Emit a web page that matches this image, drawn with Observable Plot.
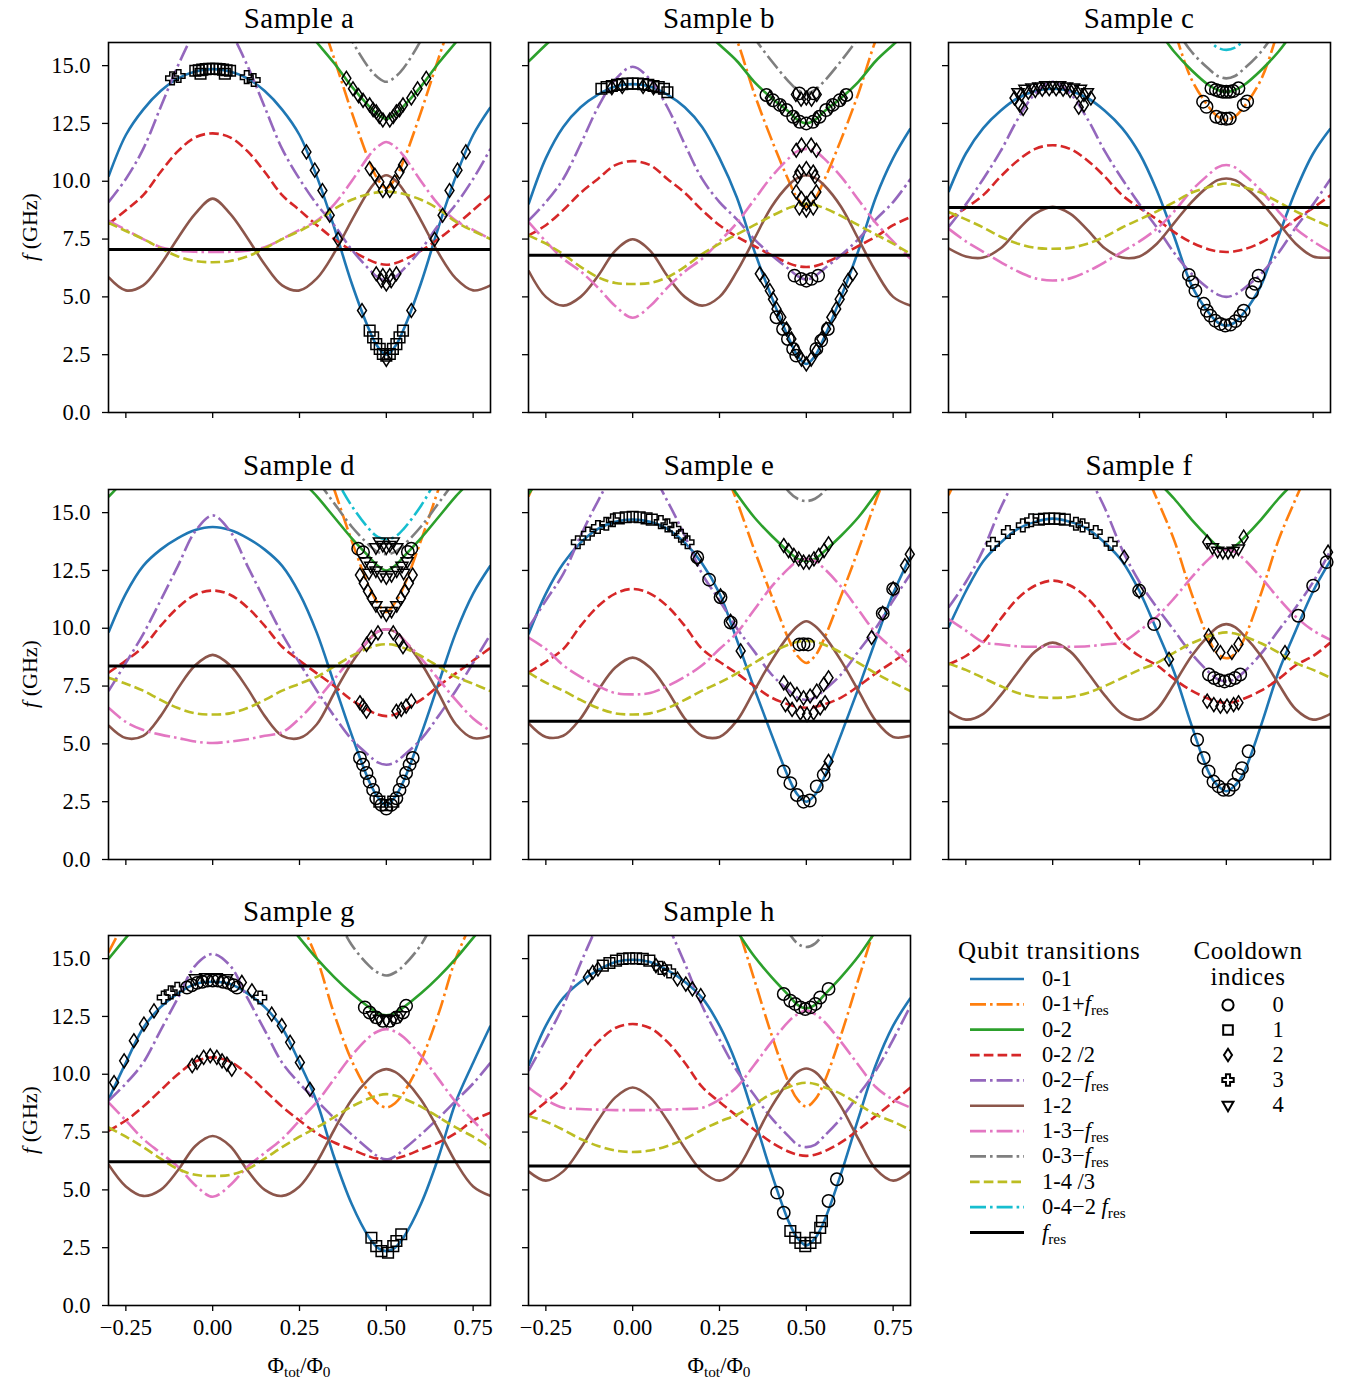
<!DOCTYPE html>
<html>
<head>
<meta charset="utf-8">
<script src="https://cdn.jsdelivr.net/npm/d3@7"></script>
<script src="https://cdn.jsdelivr.net/npm/@observablehq/plot@0.6"></script>
<style>
  html, body { margin: 0; padding: 0; background: #fff; }
  #root { position: relative; width: 1348px; height: 1383px; font-family: "Liberation Serif", serif; color: #000; overflow: hidden; }
  .abs { position: absolute; white-space: nowrap; line-height: 1; }
  .ctr { transform: translate(-50%, -50%); }
  sub { font-size: 0.68em; vertical-align: -0.28em; line-height: 0; }
  svg.plotpanel { position: absolute; overflow: visible; background: transparent; }
  svg.plotpanel text { font-family: "Liberation Serif", serif; }
</style>
</head>
<body>
<div id="root"></div>
<script>
// ---------------- DATA ----------------
const N = null;
const PHI = [-0.3,-0.25,-0.2,-0.15,-0.1,-0.05,0,0.05,0.1,0.15,0.2,0.25,0.3,0.35,0.4,0.45,0.475,0.5,0.525,0.55,0.6,0.65,0.7,0.75,0.8];
const Y_TICKS = [0, 2.5, 5, 7.5, 10, 12.5, 15];
const X_TICKS = [-0.25, 0, 0.25, 0.5, 0.75];
const SAMPLES = ["a","b","c","d","e","f","g","h"];
const F_RES = [7.05, 6.8, 8.86, 8.37, 5.98, 5.72, 6.22, 6.03];
const TRANSITIONS = ["0-1","0-1+fres","0-2","0-2 /2","0-2−fres","1-2","1-3−fres","0-3−fres","1-4 /3","0-4−2 fres"];
const COOLDOWNS = [0,1,2,3,4];

// Sample a
const a01  = [10.2,12.0,13.1,13.9,14.45,14.75,14.85,14.75,14.45,13.9,13.1,12.0,10.2,8.0,5.6,3.6,2.85,2.5,2.85,3.6,5.6,8.0,10.2,12.0,13.2];
const a01r = [N,N,N,N,N,N,N,N,N,N,N,19.5,17.5,15.3,13.0,10.9,10.1,9.7,10.1,10.9,13.0,15.3,17.5,19.5,N];
const a02  = [16.2,17.1,N,N,N,N,N,N,N,N,N,16.9,16.0,15.1,14.1,13.25,12.9,12.7,12.9,13.25,14.1,15.1,16.0,16.9,N];
const a02h = [8.15,8.75,9.4,10.4,11.3,11.9,12.07,11.9,11.3,10.4,9.4,8.75,8.1,7.5,7.0,6.6,6.45,6.39,6.45,6.6,7.0,7.5,8.1,8.75,9.4];
const a02r = [9.1,10.1,11.4,13.2,15.0,16.5,17.5,16.5,15.0,13.2,11.4,10.1,9.0,8.1,7.05,6.2,5.85,5.7,5.85,6.2,7.05,8.1,9.0,10.1,11.4];
const a12  = [5.85,5.28,5.5,6.4,7.55,8.6,9.25,8.6,7.55,6.4,5.5,5.28,5.8,6.9,8.3,9.6,10.05,10.26,10.05,9.6,8.3,6.9,5.8,5.28,5.5];
const a13r = [8.3,7.9,7.5,7.15,7.0,6.95,6.94,6.95,7.0,7.15,7.5,7.9,8.3,9.0,10.0,11.1,11.5,11.7,11.5,11.1,10.0,9.0,8.3,7.9,7.5];
const a03r = [N,N,N,N,N,N,N,N,N,N,N,N,N,17.6,16.1,14.9,14.5,14.3,14.5,14.9,16.1,17.6,N,N,N];
const a14  = [8.2,7.85,7.5,7.1,6.75,6.55,6.5,6.55,6.75,7.1,7.5,7.85,8.25,8.8,9.2,9.45,9.52,9.55,9.52,9.45,9.2,8.8,8.25,7.85,7.5];

// Sample b
const b01  = [9.0,11.0,12.35,13.2,13.75,14.1,14.2,14.1,13.75,13.2,12.35,11.0,9.3,7.0,5.0,3.2,2.45,2.1,2.45,3.2,5.0,7.0,9.3,11.0,12.28];
const b01r = [16.1,17.8,N,N,N,N,N,N,N,N,N,17.8,16.1,13.8,11.8,10.0,9.25,8.9,9.25,10.0,11.8,13.8,16.1,17.8,N];
const b02  = [15.17,15.9,16.6,17.5,N,N,N,N,N,17.5,16.6,15.9,15.2,14.3,13.6,13.0,12.65,12.5,12.65,13.0,13.6,14.3,15.2,15.9,16.6];
const b02h = [7.66,8.1,8.75,9.5,10.1,10.7,10.87,10.7,10.1,9.5,8.75,8.1,7.6,7.2,6.8,6.45,6.33,6.29,6.33,6.45,6.8,7.2,7.6,8.1,8.45];
const b02r = [8.3,9.1,10.1,11.6,13.2,14.4,14.95,14.4,13.2,11.6,10.1,9.1,8.35,7.5,6.8,6.2,5.9,5.75,5.9,6.2,6.8,7.5,8.35,9.1,10.1];
const b12  = [6.14,5.0,4.62,5.0,5.9,7.0,7.49,7.0,5.9,5.0,4.62,5.0,6.1,7.5,8.9,9.85,10.15,10.26,10.15,9.85,8.9,7.5,6.1,5.0,4.62];
const b13r = [8.24,7.4,6.65,6.1,5.4,4.6,4.1,4.6,5.4,6.1,6.65,7.4,8.2,9.2,10.2,11.0,11.3,11.4,11.3,11.0,10.2,9.2,8.2,7.4,6.65];
const b03r = [N,N,N,N,N,N,N,N,N,N,N,N,17.3,16.2,15.2,14.3,13.95,13.8,13.95,14.3,15.2,16.2,17.3,N,N];
const b14  = [7.66,7.3,6.85,6.3,5.85,5.6,5.56,5.6,5.85,6.3,6.85,7.3,7.7,8.1,8.5,8.85,8.97,9.03,8.97,8.85,8.5,8.1,7.7,7.3,6.86];

// Sample c
const c01  = [9.54,11.2,12.3,13.05,13.6,13.9,14.0,13.9,13.6,13.05,12.3,11.2,9.6,7.6,5.5,4.3,3.9,3.76,3.9,4.3,5.5,7.6,9.6,11.2,12.28];
const c01r = [N,N,N,N,N,N,N,N,N,N,N,N,18.5,16.5,14.4,13.2,12.8,12.65,12.8,13.2,14.4,16.5,18.5,N,N];
const c02  = [16.6,17.5,N,N,N,N,N,N,N,N,N,17.5,16.6,15.6,14.8,14.15,13.95,13.87,13.95,14.15,14.8,15.6,16.6,17.5,N];
const c02h = [8.38,8.85,9.4,10.2,10.9,11.4,11.56,11.4,10.9,10.2,9.4,8.85,8.35,7.8,7.35,7.05,6.97,6.94,6.97,7.05,7.35,7.8,8.35,8.85,9.39];
const c02r = [8.02,9.0,10.1,11.3,12.7,13.8,14.3,13.8,12.7,11.3,10.1,9.0,8.0,6.9,6.0,5.35,5.1,5.0,5.1,5.35,6.0,6.9,8.0,9.0,10.1];
const c12  = [7.1,6.75,6.7,7.1,7.9,8.6,8.89,8.6,7.9,7.1,6.7,6.75,7.3,8.2,9.1,9.8,10.05,10.12,10.05,9.8,9.1,8.2,7.3,6.75,6.7];
const c13r = [7.95,7.4,6.95,6.5,6.1,5.8,5.71,5.8,6.1,6.5,6.95,7.4,7.95,8.7,9.6,10.3,10.6,10.7,10.6,10.3,9.6,8.7,7.95,7.4,6.94];
const c03r = [N,N,N,N,N,N,N,N,N,N,N,N,18.0,16.7,15.6,14.85,14.55,14.45,14.55,14.85,15.6,16.7,18.0,N,N];
const c14  = [8.67,8.35,8.0,7.6,7.3,7.12,7.08,7.12,7.3,7.6,8.0,8.35,8.7,9.1,9.5,9.75,9.85,9.9,9.85,9.75,9.5,9.1,8.7,8.35,8.02];
const c04r = [N,N,N,N,N,N,N,N,N,N,N,N,N,18.5,17.0,16.1,15.78,15.68,15.78,16.1,17.0,18.5,N,N,N];

// Sample d
const d01  = [9.82,11.5,12.7,13.4,13.9,14.25,14.38,14.25,13.9,13.4,12.7,11.5,9.8,7.6,5.4,3.4,2.7,2.35,2.7,3.4,5.4,7.6,9.8,11.5,12.71];
const d01r = [N,N,N,N,N,N,N,N,N,N,N,N,18.2,16.0,13.8,11.8,11.1,10.7,11.1,11.8,13.8,16.0,18.2,N,N];
const d02  = [15.68,16.5,17.5,N,N,N,N,N,N,N,17.5,16.5,15.7,14.8,13.9,13.1,12.7,12.5,12.7,13.1,13.9,14.8,15.7,16.5,17.5];
const d02h = [8.08,8.6,9.2,10.1,10.9,11.45,11.63,11.45,10.9,10.1,9.2,8.6,8.05,7.5,6.9,6.45,6.27,6.2,6.27,6.45,6.9,7.5,8.05,8.6,9.16];
const d02r = [7.28,8.5,9.75,11.2,12.7,14.2,14.88,14.2,12.7,11.2,9.75,8.5,7.3,6.2,5.2,4.5,4.2,4.1,4.2,4.5,5.2,6.2,7.3,8.5,9.74];
const d12  = [5.8,5.25,5.35,6.2,7.4,8.4,8.85,8.4,7.4,6.2,5.35,5.25,5.85,7.2,8.5,9.5,9.85,9.96,9.85,9.5,8.5,7.2,5.85,5.25,5.35];
const d13r = [6.56,5.95,5.6,5.4,5.25,5.1,5.04,5.1,5.2,5.35,5.5,6.1,6.9,7.8,8.7,9.5,9.85,9.96,9.85,9.5,8.7,7.8,6.9,6.1,5.55];
const d03r = [N,N,N,N,N,N,N,N,N,N,N,17.2,16.4,15.4,14.4,13.6,13.3,13.2,13.3,13.6,14.4,15.4,16.4,17.2,N];
const d14  = [7.86,7.6,7.3,6.9,6.55,6.32,6.27,6.32,6.55,6.9,7.3,7.6,7.9,8.35,8.8,9.15,9.27,9.31,9.27,9.15,8.8,8.35,7.9,7.6,7.28];
const d04r = [N,N,N,N,N,N,N,N,N,N,N,N,18.0,16.6,15.3,14.3,13.95,13.85,13.95,14.3,15.3,16.6,18.0,N,N];

// Sample e
const e01  = [9.74,11.5,12.8,13.7,14.3,14.6,14.7,14.6,14.3,13.7,12.8,11.5,9.5,7.4,5.4,3.5,2.8,2.5,2.8,3.5,5.4,7.4,9.5,11.5,13.1];
const e01r = [15.7,17.4,N,N,N,N,N,N,N,N,N,17.4,15.5,13.4,11.4,9.5,8.8,8.5,8.8,9.5,11.4,13.4,15.5,17.4,N];
const e02  = [15.8,16.9,N,N,N,N,N,N,N,N,N,16.9,15.8,14.8,14.0,13.3,13.0,12.9,13.0,13.3,14.0,14.8,15.8,16.9,N];
const e02h = [8.08,8.55,9.1,10.1,10.95,11.5,11.7,11.5,10.95,10.1,9.1,8.55,8.05,7.5,7.0,6.7,6.6,6.56,6.6,6.7,7.0,7.5,8.05,8.55,9.09];
const e02r = [10.03,11.2,12.35,14.0,15.5,16.8,17.5,16.8,15.5,14.0,12.35,11.2,10.0,9.0,8.0,7.3,7.0,6.9,7.0,7.3,8.0,9.0,10.0,11.2,12.35];
const e12  = [5.9,5.3,5.35,6.1,7.3,8.3,8.73,8.3,7.3,6.1,5.35,5.3,6.0,7.3,8.6,9.7,10.1,10.3,10.1,9.7,8.6,7.3,6.0,5.3,5.35];
const e13r = [9.6,9.1,8.4,7.9,7.5,7.2,7.14,7.2,7.5,7.9,8.4,9.1,9.8,10.8,11.8,12.6,12.9,13.0,12.9,12.6,11.8,10.8,9.8,9.1,8.37];
const e03r = [N,N,N,N,N,N,N,N,N,N,N,N,N,N,17.0,15.9,15.6,15.5,15.6,15.9,17.0,N,N,N,N];
const e14  = [8.08,7.65,7.3,6.9,6.55,6.32,6.27,6.32,6.55,6.9,7.3,7.65,8.05,8.5,8.95,9.3,9.42,9.45,9.42,9.3,8.95,8.5,8.05,7.65,7.28];

// Sample f
const f01  = [10.03,11.6,12.9,13.7,14.3,14.6,14.74,14.6,14.3,13.7,12.9,11.6,9.9,8.1,5.8,3.75,3.2,2.95,3.2,3.75,5.8,8.1,9.9,11.6,12.93];
const f01r = [15.75,17.3,N,N,N,N,N,N,N,N,N,17.3,15.6,13.8,11.5,9.5,8.9,8.7,8.9,9.5,11.5,13.8,15.6,17.3,N];
const f02  = [16.4,17.3,N,N,N,N,N,N,N,N,N,17.3,16.4,15.6,14.7,13.9,13.55,13.4,13.55,13.9,14.7,15.6,16.4,17.3,N];
const f02h = [8.44,8.8,9.4,10.4,11.3,11.85,12.06,11.85,11.3,10.4,9.4,8.8,8.4,7.8,7.3,6.95,6.82,6.78,6.82,6.95,7.3,7.8,8.4,8.8,9.38];
const f02r = [10.9,12.0,13.4,15.2,16.7,N,N,N,16.7,15.2,13.4,12.0,10.9,9.9,8.9,8.1,7.8,7.7,7.8,8.1,8.9,9.9,10.9,12.0,13.36];
const f12  = [6.41,6.05,6.3,7.1,8.1,9.0,9.38,9.0,8.1,7.1,6.3,6.05,6.5,7.6,8.8,9.7,10.05,10.18,10.05,9.7,8.8,7.6,6.5,6.05,6.3];
const f13r = [10.4,9.9,9.4,9.3,9.22,9.2,9.2,9.2,9.22,9.3,9.4,9.9,10.5,11.3,12.2,13.0,13.3,13.4,13.3,13.0,12.2,11.3,10.5,9.9,9.5];
const f14  = [8.47,8.2,7.85,7.5,7.2,7.03,6.99,7.03,7.2,7.5,7.85,8.2,8.5,8.95,9.35,9.65,9.77,9.82,9.77,9.65,9.35,8.95,8.5,8.2,7.86];

// Sample g
const g01  = [8.9,10.5,12.0,12.9,13.5,13.9,14.0,13.9,13.5,12.9,12.0,10.5,8.8,6.4,4.4,2.95,2.5,2.35,2.5,2.95,4.4,6.4,8.8,10.5,12.1];
const g01r = [15.27,16.7,N,N,N,N,N,N,N,N,N,16.7,15.0,12.6,10.6,9.2,8.75,8.56,8.75,9.2,10.6,12.6,15.0,16.7,N];
const g02  = [14.99,15.9,16.8,N,N,N,N,N,N,N,16.8,15.9,15.0,14.2,13.5,12.9,12.65,12.55,12.65,12.9,13.5,14.2,15.0,15.9,16.8];
const g02h = [7.55,8.0,8.6,9.3,10.0,10.55,10.73,10.55,10.0,9.3,8.6,8.0,7.45,7.05,6.75,6.45,6.35,6.32,6.35,6.45,6.75,7.05,7.45,8.0,8.34];
const g02r = [8.85,9.6,10.5,11.9,13.3,14.7,15.2,14.7,13.3,11.9,10.5,9.6,8.85,8.1,7.4,6.75,6.45,6.32,6.45,6.75,7.4,8.1,8.85,9.6,10.5];
const g12  = [6.1,5.15,4.74,5.0,5.85,6.9,7.33,6.9,5.85,5.0,4.74,5.15,6.2,7.6,8.9,9.8,10.1,10.22,10.1,9.8,8.9,7.6,6.2,5.15,4.74];
const g13r = [8.78,8.0,7.2,6.6,6.0,5.2,4.7,5.2,6.0,6.6,7.2,8.0,8.8,9.8,10.8,11.6,11.85,11.95,11.85,11.6,10.8,9.8,8.8,8.0,7.19];
const g03r = [N,N,N,N,N,N,N,N,N,N,N,N,N,17.0,15.6,14.7,14.4,14.27,14.4,14.7,15.6,17.0,N,N,N];
const g14  = [7.7,7.3,6.85,6.35,5.9,5.65,5.6,5.65,5.9,6.35,6.85,7.3,7.7,8.15,8.6,8.95,9.08,9.14,9.08,8.95,8.6,8.15,7.7,7.3,6.83];

// Sample h
const h01  = [10.37,12.1,13.3,14.0,14.5,14.85,14.95,14.85,14.5,14.0,13.3,12.1,10.4,8.1,5.7,3.6,2.9,2.6,2.9,3.6,5.7,8.1,10.4,12.1,13.3];
const h01r = [N,N,N,N,N,N,N,N,N,N,N,18.0,16.4,14.1,11.7,9.6,8.9,8.6,8.9,9.6,11.7,14.1,16.4,18.0,N];
const h02  = [16.2,17.4,N,N,N,N,N,N,N,N,N,17.4,16.2,15.1,14.2,13.4,13.0,12.85,13.0,13.4,14.2,15.1,16.2,17.4,N];
const h02h = [8.2,8.8,9.45,10.5,11.4,12.0,12.17,12.0,11.4,10.5,9.45,8.8,8.2,7.6,7.05,6.65,6.52,6.47,6.52,6.65,7.05,7.6,8.2,8.8,9.43];
const h02r = [10.15,11.5,12.96,14.8,16.5,N,N,N,16.5,14.8,12.96,11.5,10.15,9.1,8.1,7.3,6.95,6.85,6.95,7.3,8.1,9.1,10.15,11.5,12.96];
const h12  = [5.8,5.4,5.8,6.8,8.0,9.0,9.43,9.0,8.0,6.8,5.8,5.4,5.9,7.2,8.6,9.7,10.1,10.25,10.1,9.7,8.6,7.2,5.9,5.4,5.8];
const h13r = [9.43,8.9,8.55,8.5,8.47,8.45,8.45,8.45,8.47,8.5,8.55,8.9,9.45,10.4,11.4,12.3,12.6,12.75,12.6,12.3,11.4,10.4,9.45,8.9,8.56];
const h03r = [N,N,N,N,N,N,N,N,N,N,N,N,N,N,17.2,16.1,15.65,15.5,15.65,16.1,17.2,N,N,N,N];
const h14  = [8.2,7.95,7.6,7.2,6.9,6.7,6.64,6.7,6.9,7.2,7.6,7.95,8.25,8.7,9.15,9.45,9.58,9.63,9.58,9.45,9.15,8.7,8.25,7.95,7.59];

// measured points: [Φtot/Φ0, f (GHz), cooldown index]
const ptsA = [
  [-0.117,14.45,3],[-0.098,14.55,3],[0.098,14.5,3],[0.118,14.38,3],
  [-0.05,14.78,1],[-0.04,14.8,1],[-0.03,14.83,1],[-0.02,14.85,1],[-0.01,14.86,1],[0,14.86,1],[0.01,14.86,1],[0.02,14.85,1],[0.03,14.83,1],[0.04,14.8,1],[0.05,14.78,1],[-0.035,14.65,1],[0.035,14.65,1],
  [0.385,14.45,2],[0.404,14.0,2],[0.42,13.7,2],[0.433,13.5,2],[0.452,13.3,2],[0.462,13.1,2],[0.471,13.0,2],[0.48,12.8,2],[0.49,12.65,2],[0.51,12.65,2],[0.52,12.8,2],[0.529,13.0,2],[0.538,13.1,2],[0.548,13.3,2],[0.572,13.6,2],[0.59,14.0,2],[0.615,14.45,2],
  [0.452,10.55,2],[0.467,10.26,2],[0.48,9.97,2],[0.49,9.6,2],[0.51,9.6,2],[0.524,9.97,2],[0.538,10.4,2],[0.548,10.7,2],
  [0.471,6.0,2],[0.486,5.7,2],[0.5,5.56,2],[0.514,5.7,2],[0.529,6.0,2],[0.49,5.92,2],[0.51,5.92,2],
  [0.27,11.27,2],[0.294,10.48,2],[0.316,9.6,2],[0.337,8.53,2],[0.361,7.49,2],[0.639,7.49,2],[0.662,8.53,2],[0.682,9.6,2],[0.705,10.48,2],[0.729,11.27,2],[0.43,4.41,2],[0.572,4.41,2],[0.5,2.3,2],
  [0.452,3.54,1],[0.462,3.25,1],[0.471,2.96,1],[0.481,2.75,1],[0.49,2.53,1],[0.5,2.46,1],[0.51,2.53,1],[0.519,2.75,1],[0.529,2.96,1],[0.538,3.25,1],[0.548,3.54,1]
];
const ptsB = [
  [-0.09,14.0,1],[-0.075,14.07,1],[-0.06,14.12,1],[-0.045,14.17,1],[-0.03,14.2,1],[-0.015,14.22,1],[0,14.22,1],[0.015,14.22,1],[0.03,14.2,1],[0.045,14.17,1],[0.06,14.12,1],[0.075,14.07,1],[0.09,14.0,1],[0.1,13.85,1],
  [-0.06,14.05,2],[-0.03,14.1,2],[0.03,14.1,2],[0.06,14.05,2],
  [0.385,13.73,0],[0.404,13.5,0],[0.424,13.3,0],[0.443,13.08,0],[0.462,12.79,0],[0.481,12.57,0],[0.5,12.5,0],[0.519,12.57,0],[0.538,12.79,0],[0.557,13.08,0],[0.576,13.3,0],[0.596,13.5,0],[0.615,13.73,0],
  [0.395,13.6,2],[0.43,13.2,2],[0.47,12.7,2],[0.53,12.7,2],[0.57,13.2,2],[0.605,13.6,2],
  [0.47,13.75,2],[0.485,13.55,2],[0.5,13.6,2],[0.515,13.55,2],[0.53,13.75,2],[0.48,13.8,0],[0.52,13.8,0],
  [0.471,11.34,2],[0.486,11.56,2],[0.514,11.56,2],[0.529,11.34,2],
  [0.48,10.4,2],[0.5,10.55,2],[0.52,10.4,2],[0.475,10.2,2],[0.525,10.2,2],
  [0.471,9.54,2],[0.486,9.25,2],[0.5,9.03,2],[0.514,9.25,2],[0.529,9.54,2],[0.48,8.85,2],[0.5,8.75,2],[0.52,8.85,2],
  [0.466,5.92,0],[0.485,5.78,0],[0.5,5.7,0],[0.515,5.78,0],[0.534,5.92,0],
  [0.366,6.0,2],[0.38,5.7,2],[0.395,5.27,2],[0.404,4.9,2],[0.414,4.48,2],[0.428,4.12,2],[0.443,3.61,2],[0.457,3.18,2],[0.471,2.67,2],[0.486,2.31,2],[0.5,2.1,2],[0.514,2.31,2],[0.529,2.67,2],[0.543,3.18,2],[0.557,3.61,2],[0.572,4.12,2],[0.586,4.48,2],[0.596,4.9,2],[0.605,5.27,2],[0.62,5.7,2],[0.634,6.0,2],
  [0.414,4.12,0],[0.433,3.61,0],[0.447,3.18,0],[0.462,2.75,0],[0.471,2.46,0],[0.529,2.75,0],[0.543,3.11,0],[0.562,3.61,0]
];
const ptsC = [
  [-0.11,13.6,2],[-0.09,13.75,2],[-0.07,13.85,2],[-0.05,13.93,2],[-0.03,13.98,2],[-0.01,14.0,2],[0.01,14.0,2],[0.03,13.98,2],[0.05,13.93,2],[0.07,13.85,2],[0.09,13.75,2],[0.11,13.6,2],
  [-0.1,13.85,4],[-0.08,14.0,4],[-0.06,14.05,4],[-0.04,14.1,4],[-0.02,14.15,4],[0,14.15,4],[0.02,14.15,4],[0.04,14.1,4],[0.06,14.05,4],[0.08,14.0,4],[0.1,13.85,4],
  [-0.095,13.3,2],[-0.085,13.15,2],[0.075,13.2,2],[0.09,13.3,2],
  [0.457,14.02,0],[0.47,13.95,0],[0.48,13.9,0],[0.49,13.87,0],[0.5,13.87,0],[0.51,13.87,0],[0.52,13.9,0],[0.535,14.02,0],[0.433,13.44,0],[0.443,13.22,0],[0.55,13.3,0],[0.56,13.45,0],[0.471,12.79,0],[0.486,12.72,0],[0.51,12.72,0],[0.5,12.7,0],
  [0.392,5.95,0],[0.402,5.64,0],[0.411,5.27,0],[0.435,4.7,0],[0.444,4.4,0],[0.454,4.19,0],[0.468,3.97,0],[0.483,3.83,0],[0.497,3.76,0],[0.512,3.8,0],[0.526,3.95,0],[0.54,4.19,0],[0.55,4.4,0],[0.574,5.2,0],[0.583,5.56,0],[0.593,5.92,0]
];
const ptsD = [
  [0.419,13.44,0],[0.433,13.29,0],[0.572,13.44,0],[0.562,13.3,0],
  [0.48,13.75,4],[0.49,13.6,4],[0.5,13.5,4],[0.51,13.6,4],[0.52,13.75,4],[0.47,13.5,4],[0.53,13.5,4],
  [0.44,12.9,4],[0.455,12.7,4],[0.47,12.5,4],[0.485,12.3,4],[0.5,12.2,4],[0.515,12.3,4],[0.53,12.5,4],[0.545,12.7,4],[0.56,12.9,4],[0.45,12.4,4],[0.55,12.4,4],
  [0.424,12.3,2],[0.435,11.95,2],[0.447,11.6,2],[0.458,11.3,2],[0.542,11.3,2],[0.553,11.6,2],[0.565,11.95,2],[0.576,12.3,2],
  [0.47,11.0,4],[0.485,10.75,4],[0.5,10.6,4],[0.515,10.75,4],[0.53,11.0,4],
  [0.443,9.3,2],[0.457,9.6,2],[0.476,9.8,2],[0.52,9.8,2],[0.538,9.45,2],[0.548,9.2,2],
  [0.424,6.78,2],[0.433,6.63,2],[0.443,6.41,2],[0.529,6.41,2],[0.543,6.49,2],[0.557,6.63,2],[0.572,6.85,2],
  [0.424,4.39,0],[0.433,4.1,0],[0.443,3.74,0],[0.452,3.37,0],[0.462,3.01,0],[0.471,2.65,0],[0.486,2.36,0],[0.5,2.2,0],[0.514,2.36,0],[0.529,2.65,0],[0.538,3.01,0],[0.548,3.37,0],[0.557,3.74,0],[0.567,4.1,0],[0.576,4.39,0],
  [0.48,2.5,1],[0.5,2.35,1],[0.52,2.5,1]
];
const ptsE = [
  [-0.158,13.72,3],[-0.129,14.09,3],[-0.1,14.38,3],[-0.076,14.52,3],[-0.057,14.67,3],[0.081,14.59,3],[0.1,14.45,3],[0.12,14.3,3],[0.139,14.0,3],[0.158,13.72,3],
  [-0.04,14.75,1],[-0.02,14.8,1],[0,14.82,1],[0.02,14.8,1],[0.04,14.75,1],[0.055,14.7,1],
  [0.186,13.07,0],[0.22,12.1,0],[0.253,11.34,0],[0.282,10.25,0],[0.492,9.31,0],[0.48,9.3,0],[0.505,9.3,0],[0.435,3.81,0],[0.454,3.3,0],[0.473,2.79,0],[0.492,2.5,0],[0.51,2.55,0],[0.53,3.16,0],[0.55,3.66,0],[0.72,10.64,0],[0.75,11.7,0],
  [0.186,13.0,2],[0.253,11.4,2],[0.282,10.3,2],[0.311,9.02,2],
  [0.435,13.58,2],[0.449,13.36,2],[0.464,13.15,2],[0.478,13.0,2],[0.492,12.86,2],[0.508,12.86,2],[0.522,13.0,2],[0.536,13.15,2],[0.551,13.36,2],[0.564,13.65,2],
  [0.435,7.64,2],[0.454,7.35,2],[0.473,7.14,2],[0.492,6.99,2],[0.511,7.07,2],[0.53,7.28,2],[0.55,7.57,2],[0.564,7.86,2],
  [0.44,6.7,2],[0.459,6.49,2],[0.483,6.34,2],[0.502,6.27,2],[0.521,6.34,2],[0.54,6.56,2],[0.554,6.78,2],
  [0.564,4.24,2],[0.555,3.9,2],[0.688,9.6,2],[0.72,10.64,2],[0.75,11.7,2],[0.784,12.71,2],[0.798,13.2,2]
];
const ptsF = [
  [-0.172,13.65,3],[-0.129,14.16,3],[-0.086,14.45,3],[-0.062,14.67,3],[0.067,14.52,3],[0.086,14.45,3],[0.124,14.16,3],[0.167,13.65,3],
  [-0.04,14.7,1],[-0.025,14.73,1],[-0.01,14.74,1],[0.005,14.74,1],[0.02,14.73,1],[0.035,14.7,1],
  [0.206,13.07,2],[0.249,11.6,2],[0.335,8.66,2],[0.445,13.73,2],[0.55,13.94,2],[0.449,9.67,2],[0.464,9.31,2],[0.483,8.95,2],[0.516,8.95,2],[0.535,9.31,2],
  [0.445,6.85,2],[0.464,6.7,2],[0.483,6.63,2],[0.502,6.63,2],[0.521,6.7,2],[0.535,6.78,2],[0.669,8.95,2],[0.793,13.29,2],
  [0.46,13.5,4],[0.475,13.35,4],[0.49,13.3,4],[0.505,13.3,4],[0.52,13.35,4],[0.535,13.45,4],
  [0.249,11.63,0],[0.292,10.18,0],[0.416,5.18,0],[0.435,4.39,0],[0.449,3.81,0],[0.463,3.37,0],[0.478,3.16,0],[0.492,3.01,0],[0.507,3.01,0],[0.521,3.23,0],[0.535,3.66,0],[0.545,3.95,0],[0.564,4.68,0],[0.707,10.54,0],[0.75,11.84,0],[0.789,12.86,0],
  [0.45,8.0,0],[0.465,7.85,0],[0.48,7.75,0],[0.495,7.7,0],[0.51,7.75,0],[0.525,7.85,0],[0.54,8.0,0]
];
const ptsG = [
  [-0.284,9.64,2],[-0.255,10.58,2],[-0.227,11.45,2],[-0.198,12.17,2],[-0.169,12.74,2],[0.084,13.97,2],[0.113,13.61,2],[0.17,12.6,2],[0.199,12.1,2],[0.223,11.38,2],[0.251,10.51,2],[0.28,9.35,2],
  [-0.059,10.37,2],[-0.045,10.51,2],[-0.026,10.73,2],[-0.007,10.8,2],[0.012,10.73,2],[0.027,10.58,2],[0.041,10.44,2],[0.055,10.22,2],
  [-0.141,13.32,3],[-0.121,13.54,3],[-0.102,13.69,3],[0.137,13.32,3],
  [-0.074,13.75,0],[-0.06,13.85,0],[-0.045,13.95,0],[-0.03,14.0,0],[-0.015,14.05,0],[0,14.05,0],[0.015,14.05,0],[0.03,14.0,0],[0.045,13.95,0],[0.06,13.85,0],[0.07,13.75,0],
  [-0.05,14.15,4],[-0.02,14.2,4],[0.01,14.2,4],[0.04,14.15,4],
  [0.438,12.89,0],[0.452,12.67,0],[0.471,12.46,0],[0.49,12.31,0],[0.51,12.31,0],[0.529,12.46,0],[0.548,12.67,0],[0.557,12.96,0],
  [0.46,12.55,4],[0.48,12.4,4],[0.5,12.35,4],[0.52,12.4,4],[0.54,12.55,4],
  [0.457,2.93,1],[0.471,2.57,1],[0.486,2.35,1],[0.505,2.28,1],[0.52,2.57,1],[0.529,2.79,1],[0.543,3.08,1]
];
const ptsH = [
  [-0.129,14.19,2],[-0.115,14.41,2],[-0.1,14.55,2],[0.067,14.7,2],[0.091,14.55,2],[0.129,14.12,2],[0.153,13.9,2],[0.172,13.69,2],[0.196,13.4,2],
  [-0.086,14.7,1],[-0.067,14.81,1],[-0.048,14.91,1],[-0.029,14.99,1],[-0.01,15.01,1],[0.01,15.01,1],[0.029,14.99,1],[0.048,14.91,1],
  [0.08,14.6,3],[0.105,14.45,3],
  [0.435,13.47,0],[0.454,13.18,0],[0.468,13.04,0],[0.483,12.89,0],[0.497,12.82,0],[0.512,12.89,0],[0.526,13.04,0],[0.54,13.32,0],[0.564,13.69,0],[0.416,4.88,0],[0.435,4.01,0],[0.564,4.52,0],[0.588,5.46,0],
  [0.454,3.22,1],[0.468,2.93,1],[0.483,2.71,1],[0.497,2.57,1],[0.512,2.71,1],[0.526,2.93,1],[0.54,3.36,1],[0.545,3.65,1]
];

// ---------------- STYLE ----------------
const COLORS = ["#1f77b4","#ff7f0e","#2ca02c","#d62728","#9467bd","#8c564b","#e377c2","#7f7f7f","#bcbd22","#17becf"];
const DASHDOT = "16,4,2.6,4", DASHED = "9.6,4.2";
const DASHES = [null, DASHDOT, null, DASHED, DASHDOT, null, DASHDOT, DASHDOT, DASHED, DASHDOT];
const LW = 2.6;
const MARK_R = 6.2;

const symCircle = { draw(ctx, size) { const r = Math.sqrt(size / Math.PI); ctx.moveTo(r, 0); ctx.arc(0, 0, r, 0, 2 * Math.PI); } };
const symSquare = { draw(ctx, size) { const r = Math.sqrt(size / Math.PI) * 0.86; ctx.rect(-r, -r, 2 * r, 2 * r); } };
const symDiamond = { draw(ctx, size) { const r = Math.sqrt(size / Math.PI); const h = 1.12 * r, w = 0.72 * r; ctx.moveTo(0, -h); ctx.lineTo(w, 0); ctx.lineTo(0, h); ctx.lineTo(-w, 0); ctx.closePath(); } };
const symPlus = { draw(ctx, size) { const r = Math.sqrt(size / Math.PI) * 1.02, a = 0.36 * r;
  ctx.moveTo(-a, -r); ctx.lineTo(a, -r); ctx.lineTo(a, -a); ctx.lineTo(r, -a); ctx.lineTo(r, a); ctx.lineTo(a, a);
  ctx.lineTo(a, r); ctx.lineTo(-a, r); ctx.lineTo(-a, a); ctx.lineTo(-r, a); ctx.lineTo(-r, -a); ctx.lineTo(-a, -a); ctx.closePath(); } };
const symTriDown = { draw(ctx, size) { const r = Math.sqrt(size / Math.PI) * 1.12, s = Math.sqrt(3) / 2 * r; ctx.moveTo(0, r); ctx.lineTo(s, -r / 2); ctx.lineTo(-s, -r / 2); ctx.closePath(); } };
const SYMBOLS = [symCircle, symSquare, symDiamond, symPlus, symTriDown];

const CURVE_SETS = [
  [a01,a01r,a02,a02h,a02r,a12,a13r,a03r,a14,null],
  [b01,b01r,b02,b02h,b02r,b12,b13r,b03r,b14,null],
  [c01,c01r,c02,c02h,c02r,c12,c13r,c03r,c14,c04r],
  [d01,d01r,d02,d02h,d02r,d12,d13r,d03r,d14,d04r],
  [e01,e01r,e02,e02h,e02r,e12,e13r,e03r,e14,null],
  [f01,f01r,f02,f02h,f02r,f12,f13r,null,f14,null],
  [g01,g01r,g02,g02h,g02r,g12,g13r,g03r,g14,null],
  [h01,h01r,h02,h02h,h02r,h12,h13r,h03r,h14,null]
];
const POINT_SETS = [ptsA, ptsB, ptsC, ptsD, ptsE, ptsF, ptsG, ptsH];

// ---------------- LAYOUT ----------------
const FRAME_LEFT = [108, 528, 948];
const FRAME_TOP = [42, 489, 935];
const FW = 382, FH = 370;
const FONT = "Liberation Serif";
const root = document.getElementById("root");

function addDiv(html, x, y, css, centered = true) {
  const d = document.createElement("div");
  d.className = "abs" + (centered ? " ctr" : "");
  d.style.left = x + "px"; d.style.top = y + "px";
  d.style.cssText += css || "";
  d.innerHTML = html;
  root.appendChild(d);
  return d;
}
const fmtX = d => (d < 0 ? "−" : "") + Math.abs(d).toFixed(2);
const fmtY = d => d.toFixed(1);

SAMPLES.forEach((s, k) => {
  const col = k % 3, row = Math.floor(k / 3);
  const ML = col === 0 ? 100 : 32, MR = 8, MT = 6, MB = row === 2 ? 46 : 12;
  const marks = [];
  CURVE_SETS[k].forEach((arr, j) => {
    if (!arr) return;
    const data = PHI.map((x, i) => ({ x, y: arr[i] }));
    marks.push(Plot.line(data, {
      x: "x", y: "y", stroke: COLORS[j], strokeWidth: LW,
      strokeDasharray: DASHES[j] || undefined, strokeLinecap: "butt",
      curve: "catmull-rom", clip: true
    }));
  });
  marks.push(Plot.ruleY([F_RES[k]], { stroke: "black", strokeWidth: 3 }));
  COOLDOWNS.forEach(c => {
    const pts = POINT_SETS[k].filter(p => p[2] === c);
    if (!pts.length) return;
    marks.push(Plot.dot(pts, { x: d => d[0], y: d => d[1], symbol: SYMBOLS[c], r: MARK_R, stroke: "black", strokeWidth: 1.5, fill: "none" }));
  });
  marks.push(Plot.frame({ stroke: "black", strokeWidth: 1.6 }));
  marks.push(Plot.axisX({ ticks: X_TICKS, tickSize: 6, tickPadding: 8, strokeWidth: 1.3, label: null,
    tickFormat: row === 2 ? fmtX : () => "", fontSize: 22.5, fontFamily: FONT }));
  marks.push(Plot.axisY({ ticks: Y_TICKS, tickSize: 6, tickPadding: 12, strokeWidth: 1.3, label: null,
    tickFormat: col === 0 ? fmtY : () => "", fontSize: 22.5, fontFamily: FONT }));

  const svg = Plot.plot({
    width: FW + ML + MR, height: FH + MT + MB,
    marginLeft: ML, marginRight: MR, marginTop: MT, marginBottom: MB,
    x: { domain: [-0.3, 0.8] },
    y: { domain: [0, 16] },
    style: { background: "transparent", fontFamily: FONT, fontSize: "22.5px", color: "black", overflow: "visible" },
    marks
  });
  svg.classList.add("plotpanel");
  svg.style.left = (FRAME_LEFT[col] - ML) + "px";
  svg.style.top = (FRAME_TOP[row] - MT) + "px";
  root.appendChild(svg);

  addDiv("Sample " + s, FRAME_LEFT[col] + FW / 2, FRAME_TOP[row] - 24, "font-size:29px;letter-spacing:0.4px;");
  if (col === 0) {
    addDiv("<i>f</i> (GHz)", 30, FRAME_TOP[row] + FH / 2, "font-size:22px;transform:translate(-50%,-50%) rotate(-90deg);");
  }
  if (row === 2) {
    addDiv("Φ<sub>tot</sub>/Φ<sub>0</sub>", FRAME_LEFT[col] + FW / 2, 1366, "font-size:22.5px;");
  }
});

// ---------------- LEGEND ----------------
const LEG_LABELS = [
  "0-1", "0-1+<i>f</i><sub>res</sub>", "0-2", "0-2 /2", "0-2−<i>f</i><sub>res</sub>", "1-2",
  "1-3−<i>f</i><sub>res</sub>", "0-3−<i>f</i><sub>res</sub>", "1-4 /3", "0-4−2 <i>f</i><sub>res</sub>", "<i>f</i><sub>res</sub>"
];
const legendSvg = d3.create("svg").attr("width", 1348).attr("height", 1383)
  .style("position", "absolute").style("left", "0px").style("top", "0px").style("pointer-events", "none");
addDiv("Qubit transitions", 958, 950, "font-size:25px;letter-spacing:0.9px;transform:translate(0,-50%);", false);
LEG_LABELS.forEach((lab, i) => {
  const y = 979 + i * 25.35;
  const color = i < 10 ? COLORS[i] : "black";
  const dash = i < 10 ? DASHES[i] : null;
  legendSvg.append("line").attr("x1", 970).attr("x2", 1024).attr("y1", y).attr("y2", y)
    .attr("stroke", color).attr("stroke-width", i < 10 ? 2.7 : 3.2)
    .attr("stroke-dasharray", dash).attr("stroke-linecap", "butt");
  addDiv(lab, 1042, y, "font-size:22.5px;transform:translate(0,-50%);", false);
});
addDiv("Cooldown", 1248, 950, "font-size:25px;letter-spacing:0.6px;");
addDiv("indices", 1248, 976, "font-size:25px;letter-spacing:0.6px;");
COOLDOWNS.forEach((c, i) => {
  const y = 1005 + i * 25;
  legendSvg.append("path").attr("transform", `translate(1228,${y})`)
    .attr("d", d3.symbol(SYMBOLS[c], 5.6 * 5.6 * Math.PI)())
    .attr("fill", "none").attr("stroke", "black").attr("stroke-width", 2);
  addDiv(String(c), 1278, y, "font-size:22.5px;");
});
root.appendChild(legendSvg.node());
</script>
</body>
</html>
